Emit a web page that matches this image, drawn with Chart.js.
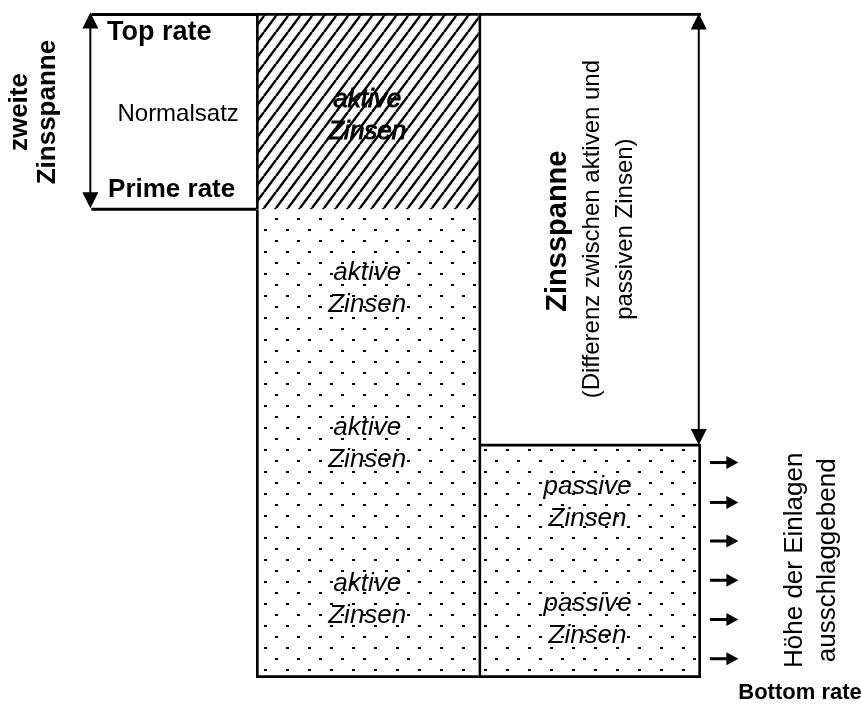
<!DOCTYPE html>
<html>
<head>
<meta charset="utf-8">
<script src="https://cdn.jsdelivr.net/npm/chart.js@4.4.1/dist/chart.umd.min.js"></script>
<style>
  html, body { margin: 0; padding: 0; background: #fff; }
  #wrap { width: 861px; height: 706px; }
</style>
</head>
<body>
<div id="wrap"><canvas id="chart" width="861" height="706"></canvas></div>
<script>
// --- Data (rates, top rate = 10) ---
const columns = ['aktive Zinsen', 'passive Zinsen'];

const BOTTOM_RATE  = 0;
const PASSIVE_RATE = 3.52;
const PRIME_RATE   = 7.05;
const TOP_RATE     = 10;

const aktivNormal = [[PRIME_RATE, TOP_RATE], null];     // hatched block
const aktivPrime  = [[BOTTOM_RATE, PRIME_RATE], null];  // dotted block
const passivBlock = [null, [BOTTOM_RATE, PASSIVE_RATE]];
const spanneBlock = [null, [PASSIVE_RATE, TOP_RATE]];

// label rows (rate values) inside the columns
const aktivLabelRates  = [8.45, 5.86, 3.52, 1.17];
const passivLabelRates = [2.64, 0.87];
// deposit arrows on the right
const flowArrowRates   = [3.24, 2.64, 2.06, 1.47, 0.88, 0.29];

const FONT = '"Liberation Sans", Arial, sans-serif';

// --- Patterns ---
function makeHatch() {
  const w = 12, h = 16;
  const c = document.createElement('canvas');
  c.width = w; c.height = h;
  const g = c.getContext('2d');
  g.fillStyle = '#fff'; g.fillRect(0, 0, w, h);
  g.strokeStyle = '#000'; g.lineWidth = 2.4;
  [0, 1, 2].forEach(k => {
    g.beginPath();
    g.moveTo(k * w - w, h);
    g.lineTo(k * w, 0);
    g.stroke();
  });
  return g.createPattern(c, 'repeat');
}

function makeDots() {
  const c = document.createElement('canvas');
  c.width = 22; c.height = 22;
  const g = c.getContext('2d');
  g.fillStyle = '#fff'; g.fillRect(0, 0, 22, 22);
  g.fillStyle = '#000';
  g.fillRect(0, 9, 3, 2);
  g.fillRect(11, 20, 3, 2);
  return g.createPattern(c, 'repeat');
}

const hatch = makeHatch();
const dots  = makeDots();

// --- Drawing helpers ---
function arrowHead(ctx, x, y, dir, w, h) {
  // dir: 'up' | 'down' | 'right'
  ctx.beginPath();
  if (dir === 'up')   { ctx.moveTo(x, y); ctx.lineTo(x - w / 2, y + h); ctx.lineTo(x + w / 2, y + h); }
  if (dir === 'down') { ctx.moveTo(x, y); ctx.lineTo(x - w / 2, y - h); ctx.lineTo(x + w / 2, y - h); }
  if (dir === 'right'){ ctx.moveTo(x, y); ctx.lineTo(x - h, y - w / 2); ctx.lineTo(x - h, y + w / 2); }
  ctx.closePath();
  ctx.fill();
}

function hLine(ctx, x1, x2, y, lw) {
  ctx.lineWidth = lw;
  ctx.beginPath(); ctx.moveTo(x1, y); ctx.lineTo(x2, y); ctx.stroke();
}

function doubleArrow(ctx, x, yTop, yBot) {
  ctx.lineWidth = 2;
  ctx.beginPath(); ctx.moveTo(x, yTop + 12); ctx.lineTo(x, yBot - 12); ctx.stroke();
  arrowHead(ctx, x, yTop, 'up', 16, 16);
  arrowHead(ctx, x, yBot, 'down', 16, 16);
}

function text(ctx, str, x, y, font, align, rot) {
  ctx.save();
  ctx.translate(x, y);
  if (rot) ctx.rotate(rot);
  ctx.font = font;
  ctx.textAlign = align || 'center';
  ctx.textBaseline = 'middle';
  ctx.fillText(str, 0, 0);
  ctx.restore();
}

const diagramPlugin = {
  id: 'diagram',
  afterDatasetsDraw(chart) {
    const { ctx, scales: { x, y } } = chart;
    const X = i => x.getPixelForValue(i);
    const Y = r => y.getPixelForValue(r);
    ctx.save();
    ctx.fillStyle = '#000';
    ctx.strokeStyle = '#000';

    // left bracket: top / prime lines and the double arrow
    const leftX = X(-1.24);
    hLine(ctx, leftX, X(-0.5), Y(TOP_RATE) + 1.5, 3);
    hLine(ctx, leftX, X(-0.5), Y(PRIME_RATE), 3);
    doubleArrow(ctx, leftX - 1, Y(TOP_RATE) - 0.5, Y(PRIME_RATE) - 1);

    text(ctx, 'Top rate',   X(-1.17),  Y(9.70), 'bold 27px ' + FONT, 'left');
    text(ctx, 'Prime rate', X(-1.165), Y(7.34), 'bold 26px ' + FONT, 'left');
    text(ctx, 'Normalsatz', X(-0.85),  Y(8.47), '24px ' + FONT);
    text(ctx, 'zweite',     X(-1.56),  Y(8.51), 'bold 26px ' + FONT, 'center', -Math.PI / 2);
    text(ctx, 'Zinsspanne', X(-1.435), Y(8.51), 'bold 26px ' + FONT, 'center', -Math.PI / 2);

    // Zinsspanne double arrow on the right edge
    doubleArrow(ctx, X(1.49), Y(TOP_RATE) + 0.5, Y(PASSIVE_RATE) + 1);
    text(ctx, 'Zinsspanne', X(0.857), Y(6.72), 'bold 29px ' + FONT, 'center', -Math.PI / 2);
    text(ctx, '(Differenz zwischen aktiven und', X(1.01), Y(6.75), '24px ' + FONT, 'center', -Math.PI / 2);
    text(ctx, 'passiven Zinsen)', X(1.158), Y(6.75), '24px ' + FONT, 'center', -Math.PI / 2);

    // column labels
    aktivLabelRates.forEach((r, i) => {
      ['aktive', 'Zinsen'].forEach((s, k) => {
        const yy = Y(r) + (k === 0 ? -16 : 16);
        text(ctx, s, X(0), yy, 'italic 26px ' + FONT);
        if (i === 0) {
          // hatched block: heavier lettering
          ctx.save(); ctx.translate(X(0), yy);
          ctx.lineWidth = 0.9;
          ctx.font = 'italic 26px ' + FONT; ctx.textAlign = 'center'; ctx.textBaseline = 'middle';
          ctx.strokeText(s, 0, 0); ctx.restore();
        }
      });
    });
    passivLabelRates.forEach(r => {
      text(ctx, 'passive', X(0.99), Y(r) - 16, 'italic 26px ' + FONT);
      text(ctx, 'Zinsen',  X(0.99), Y(r) + 16, 'italic 26px ' + FONT);
    });

    // deposit arrows
    flowArrowRates.forEach(r => {
      const yy = Y(r);
      ctx.lineWidth = 3;
      ctx.beginPath(); ctx.moveTo(X(1.54), yy); ctx.lineTo(X(1.63), yy); ctx.stroke();
      arrowHead(ctx, X(1.668), yy, 'right', 13, 12);
    });
    text(ctx, 'Höhe der Einlagen', X(1.922), Y(1.77), '26px ' + FONT, 'center', -Math.PI / 2);
    text(ctx, 'ausschlaggebend',   X(2.07),  Y(1.77), '26px ' + FONT, 'center', -Math.PI / 2);
    text(ctx, 'Bottom rate',       X(1.945), Y(-0.23), 'bold 22px ' + FONT);

    ctx.restore();
  }
};

new Chart(document.getElementById('chart'), {
  type: 'bar',
  data: {
    labels: columns,
    datasets: [
      { label: 'aktive Zinsen (Normalsatz)', data: aktivNormal, backgroundColor: hatch,
        borderColor: '#000', borderSkipped: false, borderWidth: { top: 3, left: 3, right: 0, bottom: 0 } },
      { label: 'aktive Zinsen', data: aktivPrime, backgroundColor: dots,
        borderColor: '#000', borderSkipped: false, borderWidth: { top: 0, left: 3, right: 0, bottom: 3 } },
      { label: 'passive Zinsen', data: passivBlock, backgroundColor: dots,
        borderColor: '#000', borderSkipped: false, borderWidth: 3 },
      { label: 'Zinsspanne', data: spanneBlock, backgroundColor: '#fff',
        borderColor: '#000', borderSkipped: false, borderWidth: { top: 3, left: 3, right: 0, bottom: 0 } },
    ],
  },
  options: {
    responsive: false,
    animation: false,
    devicePixelRatio: 1,
    barPercentage: 1,
    categoryPercentage: 1,
    layout: { padding: { left: 256, right: 160, top: 13, bottom: 28 } },
    plugins: { legend: { display: false }, tooltip: { enabled: false } },
    scales: {
      x: { display: false, stacked: true },
      y: { display: false, stacked: false, min: BOTTOM_RATE, max: TOP_RATE },
    },
  },
  plugins: [diagramPlugin],
});
</script>
</body>
</html>
